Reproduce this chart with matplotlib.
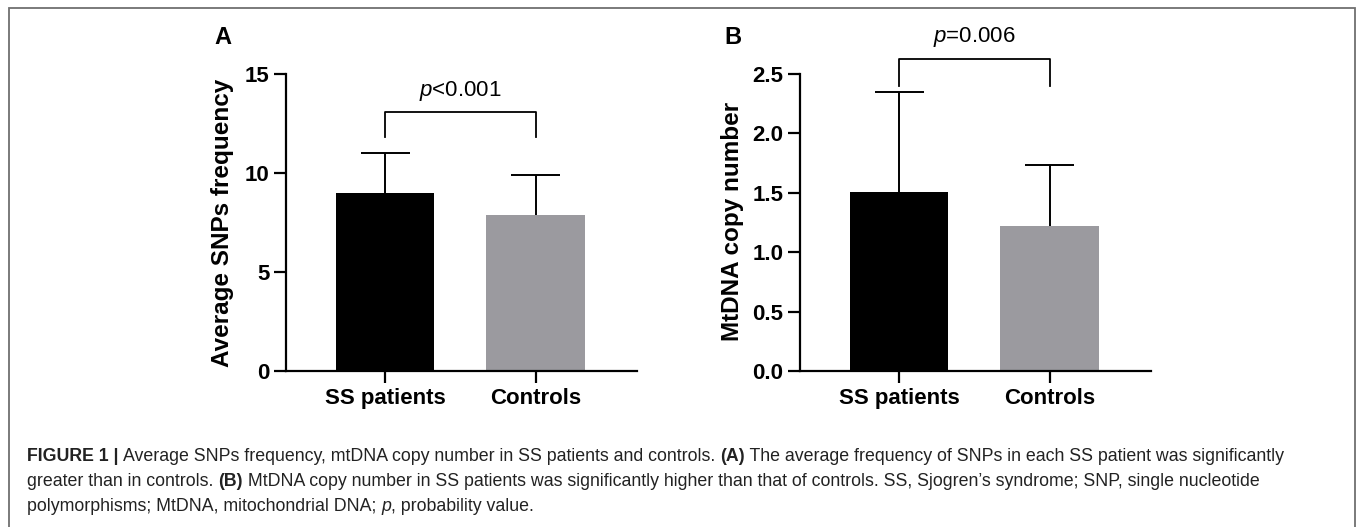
import matplotlib
matplotlib.use("Agg")
import matplotlib.pyplot as plt
from matplotlib.patches import Rectangle

# ---------------- data ----------------
groups = ["SS patients", "Controls"]
snp_mean = [9.0, 7.9]
snp_sd = [2.0, 2.0]
mt_mean = [1.51, 1.22]
mt_sd = [0.84, 0.51]
snp_ticks = [0, 5, 10, 15]
mt_ticks = [0.0, 0.5, 1.0, 1.5, 2.0, 2.5]
p_text_A = "<0.001"
p_text_B = "=0.006"
bracket_A = (11.8, 13.1)   # leg bottom, bracket top
bracket_B = (2.40, 2.63)
ylabel_A = "Average SNPs frequency"
ylabel_B = "MtDNA copy number"
bar_colors = ["#000000", "#9b9a9f"]

caption_lines = [
    [("FIGURE 1 | ", "bold", "normal"),
     ("Average SNPs frequency, mtDNA copy number in SS patients and controls. ", "normal", "normal"),
     ("(A)", "bold", "normal"),
     (" The average frequency of SNPs in each SS patient was significantly", "normal", "normal")],
    [("greater than in controls. ", "normal", "normal"),
     ("(B)", "bold", "normal"),
     (" MtDNA copy number in SS patients was significantly higher than that of controls. SS, Sjogren\u2019s syndrome; SNP, single nucleotide", "normal", "normal")],
    [("polymorphisms; MtDNA, mitochondrial DNA; ", "normal", "normal"),
     ("p", "normal", "italic"),
     (", probability value.", "normal", "normal")],
]

# ---------------- style ----------------
FONT = "Liberation Sans"
plt.rcParams["font.family"] = [FONT, "DejaVu Sans"]
plt.rcParams["mathtext.fontset"] = "custom"
plt.rcParams["mathtext.rm"] = FONT
plt.rcParams["mathtext.it"] = FONT + ":italic"
plt.rcParams["mathtext.bf"] = FONT + ":bold"

W, H = 1357, 527
fig = plt.figure(figsize=(W / 100, H / 100), dpi=100)
fig.patch.set_facecolor("white")


def px_axes(x0, x1, ytop, ybot):
    return fig.add_axes([x0 / W, (H - ybot) / H, (x1 - x0) / W, (ybot - ytop) / H])


axA = px_axes(286, 637, 74, 371)
axB = px_axes(800, 1151, 74, 371)


def draw_panel(ax, means, sds, ticks, fmt, bracket, ptxt, ptxt_y):
    x = list(range(len(groups)))
    ax.bar(x, means, width=0.655, color=bar_colors, zorder=2)
    tops = [m + s for m, s in zip(means, sds)]
    ax.vlines(x, means, tops, color="black", lw=1.4, zorder=3)
    ax.hlines(tops, [xi - 0.163 for xi in x], [xi + 0.163 for xi in x],
              color="black", lw=1.4, zorder=3)
    ax.set_xlim(-0.66, 1.675)
    ax.set_ylim(ticks[0], ticks[-1])
    ax.set_yticks(ticks)
    ax.set_yticklabels([fmt.format(t) for t in ticks])
    ax.set_xticks(x)
    ax.set_xticklabels(groups)
    for s in ["top", "right"]:
        ax.spines[s].set_visible(False)
    for s in ["left", "bottom"]:
        ax.spines[s].set_linewidth(1.6)
    ax.tick_params(axis="both", direction="out", length=8.5, width=1.6,
                   labelsize=16, pad=3.5)
    for lab in ax.get_xticklabels() + ax.get_yticklabels():
        lab.set_fontweight("bold")
    # significance bracket
    lo, hi = bracket
    ax.plot([0, 0, 1, 1], [lo, hi, hi, lo], color="black", lw=1.3,
            clip_on=False, zorder=3)
    ax.text(0.5, ptxt_y, "$p$" + ptxt, ha="center", va="center",
            fontsize=16, clip_on=False)


draw_panel(axA, snp_mean, snp_sd, snp_ticks, "{:d}", bracket_A, p_text_A, 14.15)
draw_panel(axB, mt_mean, mt_sd, mt_ticks, "{:.1f}", bracket_B, p_text_B, 2.81)

# y labels
fig.text(223 / W, 1 - 223 / H, ylabel_A, rotation=90, ha="center", va="center",
         fontsize=17.5, fontweight="bold")
fig.text(732 / W, 1 - 221 / H, ylabel_B, rotation=90, ha="center", va="center",
         fontsize=17.5, fontweight="bold")

# panel letters
fig.text(223 / W, 1 - 37 / H, "A", ha="center", va="center", fontsize=17,
         fontweight="bold")
fig.text(733 / W, 1 - 37 / H, "B", ha="center", va="center", fontsize=17,
         fontweight="bold")

# border
fig.add_artist(Rectangle((9 / W, -0.2), (1355 - 9) / W, 1.2 - 8 / H,
                         transform=fig.transFigure, fill=False,
                         ec="#707070", lw=1.3))

# caption
cap_ax = fig.add_axes([0, 0, 1, 1])
cap_ax.set_axis_off()
cap_color = "#222222"
cap_size = 12.8
baselines = [461, 486, 511]
for line, yb in zip(caption_lines, baselines):
    prev = None
    for txt, weight, style in line:
        kw = dict(fontsize=cap_size, fontweight=weight, fontstyle=style,
                  color=cap_color, ha="left")
        if prev is None:
            prev = cap_ax.text(27 / W, 1 - yb / H, txt, va="baseline",
                               transform=fig.transFigure, **kw)
        else:
            prev = cap_ax.annotate(txt, xy=(1, 0), xycoords=prev,
                                   va="bottom", **kw)

fig.savefig("out.png", dpi=100, facecolor="white")
